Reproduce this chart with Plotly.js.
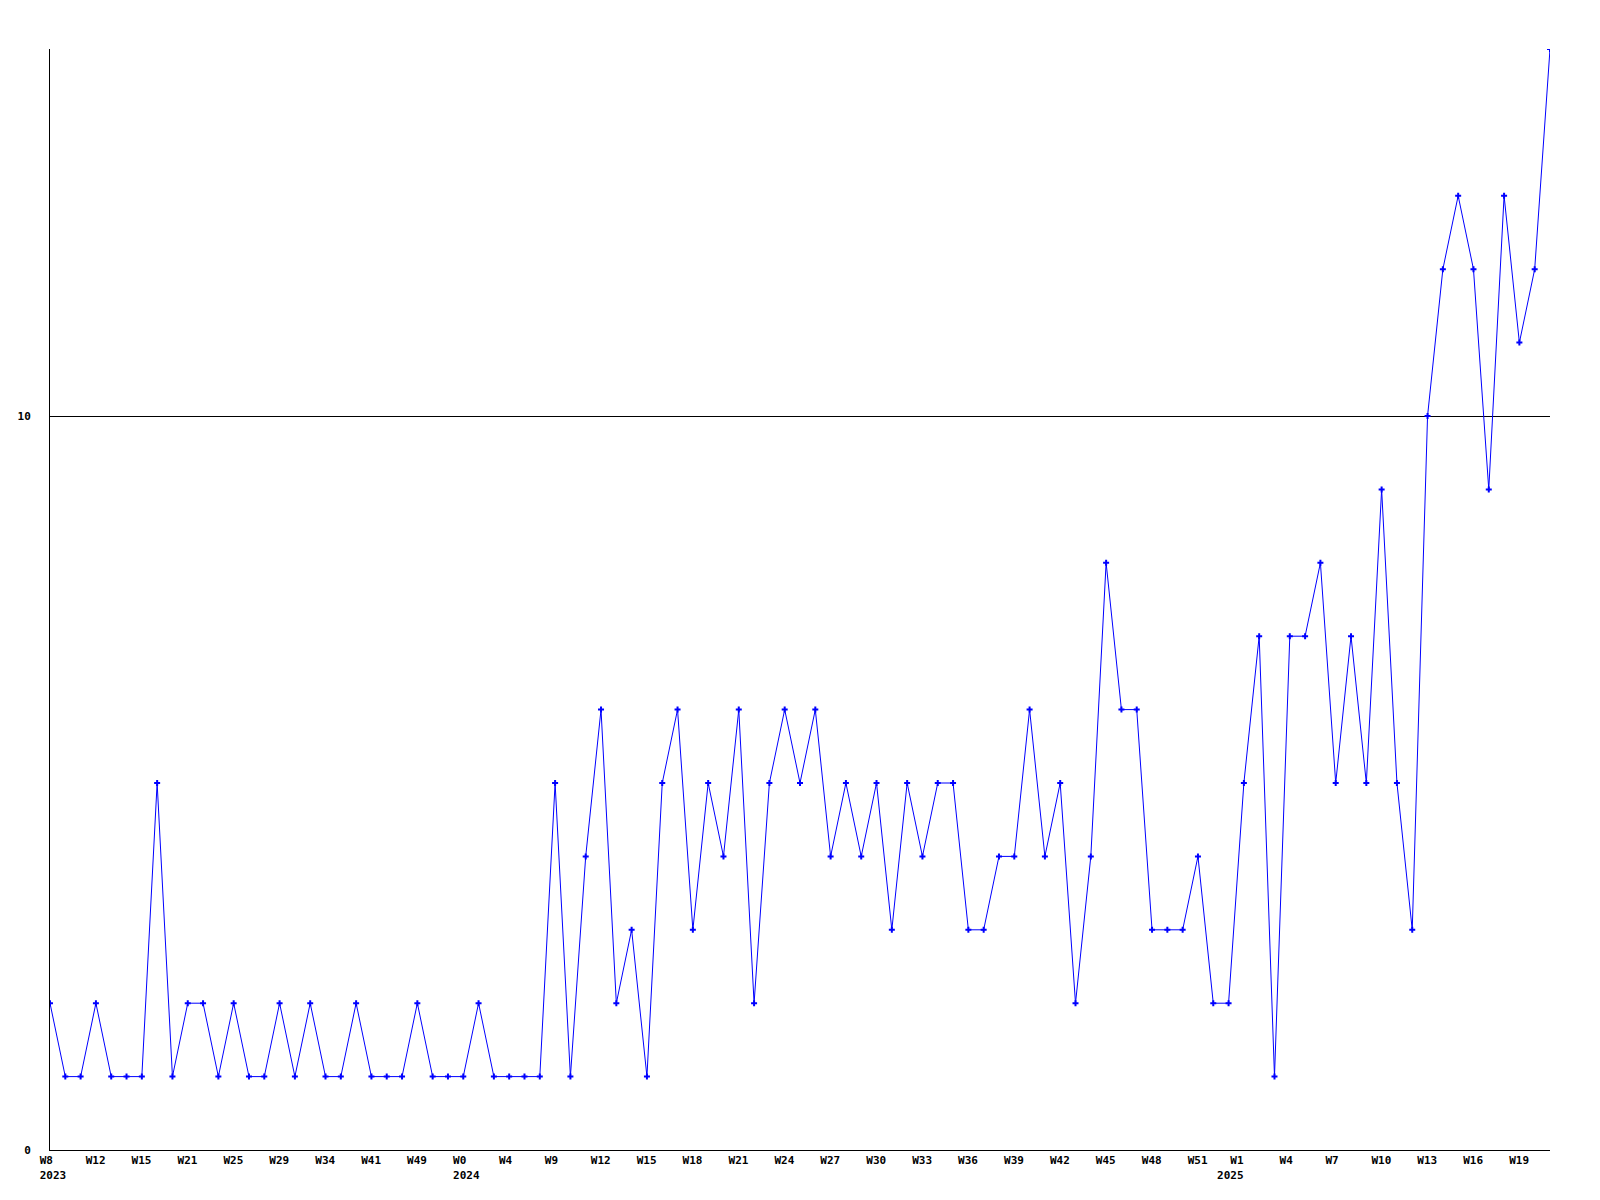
<!DOCTYPE html>
<html>
<head>
<meta charset="utf-8">
<script src="https://cdn.plot.ly/plotly-3.0.1.min.js"></script>
<style>html,body{margin:0;padding:0;background:#fff;}#chart{width:1600px;height:1200px;}</style>
</head>
<body>
<div id="chart"></div>
<script>
// One value per week (in order)
const values = [2,1,1,2,1,1,1,5,1,2,2,1,2,1,1,2,1,2,1,1,2,1,1,1,2,1,1,1,2,1,1,1,1,
  5,1,4,6,2,3,1,5,6,3,5,4,6,2,5,6,5,6,4,5,4,5,3,5,4,5,5,3,3,4,4,6,4,5,2,4,8,6,6,3,3,3,4,2,2,
  5,7,1,7,7,8,5,7,5,9,5,3,10,12,13,12,9,13,11,12,15];
// Tick labels shown every third week
const tickWeeks = ["W8","W12","W15","W21","W25","W29","W34","W41","W49","W0",
  "W4","W9","W12","W15","W18","W21","W24","W27","W30","W33","W36","W39","W42","W45","W48","W51",
  "W1","W4","W7","W10","W13","W16","W19"];
const tickYears = ["2023","","","","","","","","","2024",
  "","","","","","","","","","","","","","","","",
  "2025","","","","","",""];
const tickStep = 3;

const xIdx = values.map((_, i) => i);
const tickVals = tickWeeks.map((_, i) => i * tickStep);
// Monospace padding to place the label lines like the reference
const NB = "\u00a0";
const padR = (s, n) => s + NB.repeat(Math.max(0, n - s.length));
const tickText = tickWeeks.map((w, i) => {
  const yr = tickYears[i];
  if (!yr) return padR(w, 4);
  if (w.length === 2 && i > 10) {
    // year drawn two characters left of the week label
    return padR(NB + NB + w, 9) + "<br>" + padR(yr, 9);
  }
  return padR(w, 4) + "<br>" + yr;
});

const font = {family: "DejaVu Sans Mono, monospace", size: 11, color: "#000", weight: "bold"};

Plotly.newPlot("chart", [{
  x: xIdx, y: values, type: "scatter", mode: "lines+markers",
  line: {color: "#0000ff", width: 1},
  marker: {color: "#0000ff", symbol: "cross", size: 5},
  hoverinfo: "skip"
}], {
  width: 1600, height: 1200,
  margin: {l: 50, r: 50, t: 49, b: 50, pad: 0},
  paper_bgcolor: "#fff", plot_bgcolor: "#fff",
  showlegend: false,
  font: font,
  xaxis: {
    range: [0, values.length - 1], tickmode: "array", tickvals: tickVals, ticktext: tickText,
    showgrid: false, zeroline: false, showline: true, linecolor: "#000", linewidth: 1,
    ticks: "", tickfont: font, tickangle: 0, ticklabelshift: 3
  },
  yaxis: {
    range: [0, 15], tickmode: "array", tickvals: [0, 10], ticktext: ["0", "10"],
    showgrid: true, gridcolor: "#000", gridwidth: 1, zeroline: false,
    showline: true, linecolor: "#000", linewidth: 1, ticks: "", tickfont: font,
    ticklabelstandoff: 16
  }
}, {displayModeBar: false, staticPlot: true});
</script>
</body>
</html>
